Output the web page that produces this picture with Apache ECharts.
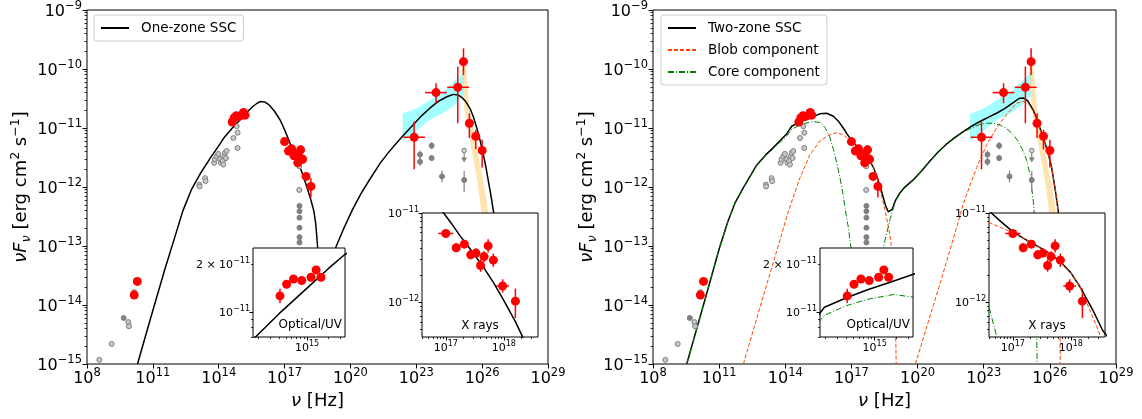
<!DOCTYPE html>
<html><head><meta charset="utf-8">
<script src="https://cdn.jsdelivr.net/npm/echarts@6/dist/echarts.min.js"></script>
<style>html,body{margin:0;padding:0;background:#fff}#c{width:1142px;height:419px}</style>
</head><body><div id="c"></div>
<script>
// ===== DATA (log10 of nu [Hz] and log10 of nuFnu [erg cm^-2 s^-1]) =====
// Red: this work
const radioLogNu = [10.15, 10.29];
const radioLogF  = [-13.83, -13.60];

const optLogNu = [14.613, 14.708, 14.806, 14.924, 15.057, 15.130, 15.199];
const optLogF  = [-10.899, -10.826, -10.793, -10.803, -10.782, -10.736, -10.782];
const optErr   = [0.045, 0.02, 0.02, 0.02, 0.02, 0.02, 0.02];

const xrLogNu = [17.00, 17.18, 17.32, 17.43, 17.52, 17.60, 17.66, 17.73, 17.82, 17.98, 18.20];
const xrLogF  = [-11.23, -11.39, -11.35, -11.47, -11.45, -11.59, -11.49, -11.37, -11.53, -11.82, -11.99];
const xrXErr  = [0.13, 0.07, 0.05, 0.05, 0.04, 0.04, 0.04, 0.04, 0.04, 0.11, 0.07];
const xrYErrLo = [0.03, 0.05, 0.04, 0.05, 0.05, 0.07, 0.06, 0.075, 0.075, 0.075, 0.19];
const xrYErrHi = [0.03, 0.05, 0.04, 0.05, 0.05, 0.07, 0.06, 0.075, 0.075, 0.075, 0.14];

const gamLogNu = [22.90, 23.90, 24.89, 25.15, 25.42, 25.71, 26.00];
const gamLogF  = [-11.157, -10.40, -10.31, -9.876, -10.92, -11.14, -11.38];
const gamXLo   = [22.41, 23.40, 24.41, 25.15, 25.42, 25.71, 26.00];
const gamXHi   = [23.40, 24.39, 25.40, 25.15, 25.42, 25.71, 26.00];
const gamYLo   = [-11.70, -10.58, -10.92, -10.10, -11.17, -11.36, -11.67];
const gamYHi   = [-10.89, -10.24, -9.96, -9.65, -10.75, -11.03, -11.20];

// Grey: archival
const archLogNu = [8.56, 9.12, 9.88, 9.91, 10.15, 10.15, 13.12, 13.13, 13.38, 13.40, 13.79, 13.83, 13.91, 13.98, 14.06, 14.10, 14.18, 14.21, 14.25, 14.29, 14.36, 14.33, 14.67, 14.82, 14.86, 14.86, 17.67, 17.67];
const archLogF  = [-14.93, -14.66, -14.29, -14.36, -13.78, -13.85, -11.96, -11.99, -11.85, -11.90, -11.59, -11.53, -11.48, -11.44, -11.53, -11.59, -11.56, -11.62, -11.48, -11.42, -11.39, -11.51, -11.17, -10.97, -11.08, -11.34, -11.65, -12.05];
const archFilledLogNu = [9.67];
const archFilledLogF  = [-14.22];
const archErrLogNu = [17.68, 17.68, 17.68, 17.68, 17.68, 17.68, 23.17, 23.17, 23.70, 23.70, 24.17, 25.18];
const archErrLogF  = [-12.32, -12.41, -12.52, -12.69, -12.85, -12.94, -11.45, -11.57, -11.30, -11.51, -11.82, -11.88];
const archErrLo    = [0.04, 0.04, 0.04, 0.04, 0.04, 0.04, 0.07, 0.07, 0.06, 0.05, 0.10, 0.20];
const archErrHi    = [0.04, 0.04, 0.04, 0.04, 0.04, 0.04, 0.07, 0.07, 0.06, 0.05, 0.10, 0.15];
const archULLogNu = [25.18];
const archULLogF  = [-11.38];

// Bands (butterflies)
const fermiBandLogNu = [22.38, 23.0, 23.6, 24.2, 24.69, 25.15, 25.15, 24.69, 24.2, 23.6, 23.0, 22.38];
const fermiBandLogF  = [-10.76, -10.67, -10.53, -10.40, -10.23, -10.05, -10.45, -10.63, -10.75, -10.86, -11.05, -11.23];
const vheBandLogNu = [25.05, 25.18, 25.53, 25.78, 25.90, 25.98, 26.15, 26.45, 26.28, 26.21, 26.05, 25.78, 25.42, 25.25];
const vheBandLogF  = [-9.92, -10.66, -11.39, -11.90, -12.24, -12.46, -13.3, -13.3, -12.46, -12.24, -11.90, -11.39, -10.66, -9.92];

// Models
const oneZoneLogNu = [10.3, 10.9, 11.55, 12.0, 12.37, 12.75, 13.15, 13.6, 14.06, 14.23, 14.6, 15.0, 15.3, 15.54, 15.75, 15.9, 16.1, 16.3, 16.55, 16.79, 16.93, 17.1, 17.25, 17.45, 17.64, 17.82, 17.99, 18.2, 18.33, 18.42, 18.49, 18.6, 18.75, 18.9, 19.05, 19.2, 19.3, 19.7, 20.1, 20.5, 20.9, 21.35, 21.7, 22.11, 22.5, 22.87, 23.25, 23.63, 24.0, 24.39, 24.69, 24.9, 25.07, 25.25, 25.45, 25.6, 25.75, 25.9, 26.05, 26.17, 26.28, 26.4, 26.51, 26.65, 26.8];
const oneZoneLogF  = [-15.0, -14.22, -13.39, -12.85, -12.40, -12.05, -11.78, -11.52, -11.27, -11.17, -11.01, -10.85, -10.73, -10.64, -10.58, -10.55, -10.56, -10.61, -10.72, -10.86, -10.97, -11.12, -11.26, -11.43, -11.60, -11.78, -11.97, -12.22, -12.40, -12.62, -12.95, -13.45, -13.9, -14.1, -13.85, -13.35, -13.05, -12.70, -12.38, -12.10, -11.86, -11.60, -11.43, -11.25, -11.09, -10.94, -10.79, -10.66, -10.55, -10.47, -10.43, -10.44, -10.48, -10.55, -10.67, -10.81, -10.99, -11.20, -11.44, -11.66, -11.89, -12.14, -12.40, -12.80, -13.40];

const twoZoneLogNu = [9.53, 10.5, 11.0, 11.4, 11.72, 12.1, 12.7, 13.1, 13.46, 13.8, 14.06, 14.29, 14.6, 14.9, 15.24, 15.57, 15.88, 16.18, 16.4, 16.63, 16.8, 17.0, 17.2, 17.47, 17.65, 17.81, 18.0, 18.16, 18.38, 18.55, 18.67, 18.75, 18.85, 18.98, 19.2, 19.4, 19.8, 20.2, 20.56, 20.9, 21.32, 21.7, 22.07, 22.45, 22.83, 23.2, 23.58, 23.95, 24.34, 24.6, 24.8, 25.0, 25.25, 25.4, 25.55, 25.7, 25.85, 25.97, 26.08, 26.23, 26.38, 26.46, 26.52];
const twoZoneLogF  = [-15.0, -13.72, -13.05, -12.58, -12.27, -12.01, -11.63, -11.46, -11.33, -11.20, -11.10, -10.97, -10.91, -10.86, -10.81, -10.76, -10.75, -10.80, -10.88, -11.00, -11.10, -11.21, -11.29, -11.39, -11.46, -11.54, -11.67, -11.83, -12.09, -12.32, -12.42, -12.45, -12.38, -12.24, -12.10, -12.01, -11.88, -11.72, -11.56, -11.42, -11.27, -11.16, -11.06, -10.97, -10.89, -10.82, -10.75, -10.67, -10.57, -10.50, -10.49, -10.54, -10.70, -10.84, -11.00, -11.16, -11.34, -11.50, -11.67, -12.01, -12.40, -12.85, -13.80];

const blobSynLogNu = [12.1, 13.0, 13.6, 14.15, 14.67, 15.12, 15.57, 16.03, 16.33, 16.6, 16.78, 17.0, 17.2, 17.47, 17.65, 17.81, 18.0, 18.16, 18.38, 18.52, 18.65, 18.78, 18.9, 18.98, 19.03];
const blobSynLogF  = [-15.0, -13.85, -13.10, -12.40, -11.84, -11.45, -11.22, -11.11, -11.08, -11.11, -11.16, -11.22, -11.29, -11.39, -11.46, -11.54, -11.67, -11.83, -12.17, -12.39, -12.62, -12.90, -13.35, -13.90, -15.0];
const blobICLogNu = [19.9, 20.5, 21.0, 21.77, 22.07, 22.4, 22.68, 23.14, 23.58, 24.04, 24.49, 24.79, 25.0, 25.25, 25.4, 25.55, 25.7, 25.85, 25.97, 26.08, 26.23, 26.38, 26.44, 26.47];
const blobICLogF  = [-15.0, -14.27, -13.66, -12.69, -12.29, -11.95, -11.67, -11.28, -11.00, -10.77, -10.58, -10.55, -10.57, -10.72, -10.86, -11.01, -11.17, -11.35, -11.51, -11.68, -12.02, -12.41, -12.90, -15.0];

const coreLogNu = [9.53, 10.5, 11.0, 11.4, 11.72, 12.1, 12.7, 13.1, 13.46, 13.8, 14.06, 14.29, 14.6, 14.9, 15.27, 15.6, 15.8, 16.0, 16.18, 16.33, 16.48, 16.6, 16.72, 16.87, 17.0, 17.2, 17.5, 17.8, 18.1, 18.35, 18.52, 18.75, 18.98, 19.2, 19.4, 19.8, 20.2, 20.56, 20.9, 21.32, 21.7, 22.07, 22.45, 22.83, 23.14, 23.45, 23.74, 24.04, 24.34, 24.55, 24.79, 24.95, 25.1, 25.25, 25.33, 25.38, 25.42];
const coreLogF  = [-15.0, -13.72, -13.05, -12.58, -12.28, -12.02, -11.64, -11.47, -11.35, -11.23, -11.14, -11.02, -10.96, -10.92, -10.89, -10.91, -10.99, -11.13, -11.36, -11.58, -11.84, -12.08, -12.38, -12.71, -13.10, -13.70, -14.30, -14.20, -13.70, -13.20, -12.91, -12.55, -12.26, -12.11, -12.02, -11.89, -11.73, -11.57, -11.43, -11.28, -11.17, -11.07, -11.00, -10.94, -10.92, -10.92, -10.95, -11.01, -11.11, -11.22, -11.39, -11.55, -11.79, -12.24, -12.70, -13.50, -15.0];

// Tick values (log10)
const mainXTicks = [8, 11, 14, 17, 20, 23, 26, 29];
const mainYTicks = [-15, -14, -13, -12, -11, -10, -9];
const optXTicks = [15];
const optYLabelTicks = [-11, Math.log10(2e-11)];
const xrXTicks = [17, 18];
const xrYTicks = [-12, -11];

// ===== helpers =====
const FONT = 'DejaVu Sans';
const MINUS = '\u2212';
const zip = (a, b) => a.map((v, i) => [v, b[i]]);
function expStr(v){ v = Math.round(v); return v < 0 ? MINUS + (-v) : String(v); }
function logMinors(lo, hi){
  const out = [];
  for (let d = Math.floor(lo) - 1; d <= Math.ceil(hi); d++)
    for (let k = 2; k <= 9; k++){ const v = d + Math.log10(k); if (v >= lo - 1e-6 && v <= hi + 1e-6) out.push(v); }
  return out;
}
const richMain = {
  b: {fontSize: 16, fontFamily: FONT, lineHeight: 20, verticalAlign: 'bottom', color: '#000'},
  e: {fontSize: 11.5, fontFamily: FONT, lineHeight: 11, verticalAlign: 'top', color: '#000'}
};
const richIn = {
  b: {fontSize: 11, fontFamily: FONT, lineHeight: 14, verticalAlign: 'bottom', color: '#000'},
  e: {fontSize: 8, fontFamily: FONT, lineHeight: 8, verticalAlign: 'top', color: '#000'}
};
const fmtPow = v => '{b|10}{e|' + expStr(v) + '}';
const fmtPowIn = v => {
  const n = Math.floor(v + 1e-6), m = Math.round(Math.pow(10, v - n));
  return (m === 1 ? '{b|10}' : '{b|' + m + ' \u00d7 10}') + '{e|' + expStr(n) + '}';
};

const grids = [
  {left: 87, top: 8, width: 461, height: 356},
  {left: 653, top: 8, width: 463, height: 356},
  {left: 253, top: 248, width: 92, height: 89, z: 10},
  {left: 422, top: 213, width: 116, height: 124, z: 10},
  {left: 820, top: 248, width: 93, height: 89, z: 10},
  {left: 989, top: 213, width: 116, height: 124, z: 10}
].map(g => Object.assign({show: true, borderColor: '#000', borderWidth: 1, backgroundColor: '#fff', containLabel: false}, g));

const xAxes = [], yAxes = [];
function addAxes(g, xr, yr, xMaj, xLab, xMin, yMaj, yLab, yMin, inset, extraX, extraY){
  const z = inset ? 14 : 0;
  const rich = inset ? richIn : richMain;
  const fmt = inset ? fmtPowIn : fmtPow;
  const majLen = inset ? 3.5 : 4.5, minLen = inset ? 2 : 2.5;
  xAxes.push(Object.assign({type: 'value', gridIndex: g, min: xr[0], max: xr[1], position: 'bottom', z,
    axisLine: {show: false}, splitLine: {show: false},
    axisTick: {show: true, customValues: xMaj, length: majLen, lineStyle: {color: '#000', width: 1}},
    axisLabel: {show: true, customValues: xLab, formatter: fmt, rich, margin: 3, color: '#000'}}, extraX || {}));
  xAxes.push({type: 'value', gridIndex: g, min: xr[0], max: xr[1], position: 'bottom', z,
    axisLine: {show: false}, splitLine: {show: false},
    axisTick: {show: xMin.length > 0, customValues: xMin.length ? xMin : [xr[0]], length: minLen, lineStyle: {color: '#000', width: 0.8}},
    axisLabel: {show: false}});
  yAxes.push(Object.assign({type: 'value', gridIndex: g, min: yr[0], max: yr[1], position: 'left', z,
    axisLine: {show: false}, splitLine: {show: false},
    axisTick: {show: true, customValues: yMaj, length: majLen, lineStyle: {color: '#000', width: 1}},
    axisLabel: {show: true, customValues: yLab, formatter: fmt, rich, margin: inset ? 3 : 5, color: '#000'}}, extraY || {}));
  yAxes.push({type: 'value', gridIndex: g, min: yr[0], max: yr[1], position: 'left', z,
    axisLine: {show: false}, splitLine: {show: false},
    axisTick: {show: yMin.length > 0, customValues: yMin.length ? yMin : [yr[0]], length: minLen, lineStyle: {color: '#000', width: 0.8}},
    axisLabel: {show: false}});
}
const xName = {name: '{i|\u03bd} [Hz]', nameLocation: 'middle', nameGap: 26,
  nameTextStyle: {fontSize: 18, fontFamily: FONT, color: '#000', rich: {i: {fontSize: 18, fontFamily: FONT, fontStyle: 'italic'}}}};
const yName = {name: '{i|\u03bdF}{s|\u03bd} [erg cm{p|2} s{p|' + MINUS + '1}]', nameLocation: 'middle', nameGap: 54, nameRotate: 90,
  nameTextStyle: {fontSize: 18, fontFamily: FONT, color: '#000', lineHeight: 24,
    rich: {i: {fontSize: 18, fontFamily: FONT, fontStyle: 'italic', lineHeight: 24},
           s: {fontSize: 12.5, fontFamily: FONT, fontStyle: 'italic', lineHeight: 12, verticalAlign: 'bottom'},
           p: {fontSize: 12.5, fontFamily: FONT, lineHeight: 12, verticalAlign: 'top'}}}};

const yMainMin = logMinors(-15, -9);
addAxes(0, [8, 29], [-15, -9], mainXTicks, mainXTicks, [], mainYTicks, mainYTicks, yMainMin, false, xName, yName);
addAxes(1, [8, 29], [-15, -9], mainXTicks, mainXTicks, [], mainYTicks, mainYTicks, yMainMin, false, xName, yName);
const optXR = [14.227, 15.543], optYR = [-11.156, -10.599];
const xrXR = [16.59, 18.59], xrYR = [-12.393, -11.0];
addAxes(2, optXR, optYR, optXTicks, optXTicks, logMinors(optXR[0], optXR[1]), [-11], optYLabelTicks, logMinors(optYR[0], optYR[1]), true);
addAxes(3, xrXR, xrYR, xrXTicks, xrXTicks, logMinors(xrXR[0], xrXR[1]), xrYTicks, xrYTicks, logMinors(xrYR[0], xrYR[1]), true);
addAxes(4, optXR, optYR, optXTicks, optXTicks, logMinors(optXR[0], optXR[1]), [-11], optYLabelTicks, logMinors(optYR[0], optYR[1]), true);
addAxes(5, xrXR, xrYR, xrXTicks, xrXTicks, logMinors(xrXR[0], xrXR[1]), xrYTicks, xrYTicks, logMinors(xrYR[0], xrYR[1]), true);

// ===== series builders =====
const RED = '#ff0000', GREY = '#808080';
const ax = g => ({xAxisIndex: 2 * g, yAxisIndex: 2 * g});
function lineS(g, name, xs, ys, color, width, type, z){
  return Object.assign({type: 'line', name, data: zip(xs, ys), symbol: 'none', showSymbol: false, clip: true, silent: true,
    lineStyle: {color, width, type}, itemStyle: {color}, z, animation: false}, ax(g));
}
function scatterS(g, xs, ys, size, fill, border, bw, z){
  return Object.assign({type: 'scatter', data: zip(xs, ys), symbol: 'circle', symbolSize: size, clip: true, silent: true,
    itemStyle: {color: fill, borderColor: border, borderWidth: bw, opacity: 1}, z, animation: false}, ax(g));
}
function errS(g, rows, color, lw, z){
  return Object.assign({type: 'custom', data: rows, encode: {x: 0, y: 1}, clip: true, silent: true, z, animation: false,
    renderItem: (p, api) => {
      const x = api.value(0), y = api.value(1), xl = api.value(2), xh = api.value(3), yl = api.value(4), yh = api.value(5);
      const ch = [];
      if (yh > yl){ const a = api.coord([x, yl]), b = api.coord([x, yh]);
        ch.push({type: 'line', shape: {x1: a[0], y1: a[1], x2: b[0], y2: b[1]}, style: {stroke: color, lineWidth: lw}}); }
      if (xh > xl){ const a = api.coord([xl, y]), b = api.coord([xh, y]);
        ch.push({type: 'line', shape: {x1: a[0], y1: a[1], x2: b[0], y2: b[1]}, style: {stroke: color, lineWidth: lw}}); }
      return {type: 'group', children: ch};
    }}, ax(g));
}
function bandS(g, xs, ys, color, z){
  const pts = zip(xs, ys);
  return Object.assign({type: 'custom', data: pts, encode: {x: 0, y: 1}, clip: true, silent: true, z, animation: false,
    renderItem: (p, api) => {
      if (p.dataIndex !== 0) return {type: 'group', children: []};
      return {type: 'polygon', shape: {points: pts.map(q => api.coord(q))}, style: {fill: color}};
    }}, ax(g));
}
function ulS(g, xs, ys, z){
  return Object.assign({type: 'custom', data: zip(xs, ys), encode: {x: 0, y: 1}, clip: true, silent: true, z, animation: false,
    renderItem: (p, api) => {
      const c = api.coord([api.value(0), api.value(1)]);
      return {type: 'group', children: [
        {type: 'line', shape: {x1: c[0], y1: c[1] + 2, x2: c[0], y2: c[1] + 10}, style: {stroke: GREY, lineWidth: 1.2}},
        {type: 'polygon', shape: {points: [[c[0] - 3, c[1] + 7], [c[0] + 3, c[1] + 7], [c[0], c[1] + 12]]}, style: {fill: GREY}},
        {type: 'circle', shape: {cx: c[0], cy: c[1], r: 2.3}, style: {fill: '#d0d0d0', stroke: GREY, lineWidth: 1}}
      ]};
    }}, ax(g));
}

// error rows
const optRows = optLogNu.map((x, i) => [x, optLogF[i], x, x, optLogF[i] - optErr[i], optLogF[i] + optErr[i]]);
const xrRows = xrLogNu.map((x, i) => [x, xrLogF[i], x - xrXErr[i], x + xrXErr[i], xrLogF[i] - xrYErrLo[i], xrLogF[i] + xrYErrHi[i]]);
const gamRows = gamLogNu.map((x, i) => [x, gamLogF[i], gamXLo[i], gamXHi[i], gamYLo[i], gamYHi[i]]);
const archRows = archErrLogNu.map((x, i) => [x, archErrLogF[i], x, x, archErrLogF[i] - archErrLo[i], archErrLogF[i] + archErrHi[i]]);

const allRedX = radioLogNu.concat(optLogNu, xrLogNu, gamLogNu);
const allRedY = radioLogF.concat(optLogF, xrLogF, gamLogF);

function mainDataSeries(g){
  return [
    bandS(g, fermiBandLogNu, fermiBandLogF, 'rgba(0,255,255,0.36)', 1),
    bandS(g, vheBandLogNu, vheBandLogF, 'rgba(255,165,0,0.3)', 1),
    errS(g, archRows, GREY, 1.2, 4),
    scatterS(g, archLogNu, archLogF, 5, '#c8c8c8', GREY, 1, 4),
    scatterS(g, archErrLogNu, archErrLogF, 5, GREY, GREY, 1, 4),
    scatterS(g, archFilledLogNu, archFilledLogF, 5, GREY, GREY, 1, 4),
    ulS(g, archULLogNu, archULLogF, 4),
    errS(g, optRows.concat(xrRows, gamRows), RED, 1.5, 6),
    scatterS(g, allRedX, allRedY, 9, RED, RED, 0, 7)
  ];
}

const series = [];
// left main
series.push(lineS(0, 'One-zone SSC', oneZoneLogNu, oneZoneLogF, '#000', 1.5, 'solid', 3));
series.push(...mainDataSeries(0));
// right main
series.push(lineS(1, 'Two-zone SSC', twoZoneLogNu, twoZoneLogF, '#000', 1.5, 'solid', 3));
series.push(lineS(1, 'Blob component', blobSynLogNu, blobSynLogF, '#ff4500', 1, [4, 2], 3));
series.push(lineS(1, 'Blob component', blobICLogNu, blobICLogF, '#ff4500', 1, [4, 2], 3));
series.push(lineS(1, 'Core component', coreLogNu, coreLogF, '#008000', 1, [6, 2, 1, 2], 3));
series.push(...mainDataSeries(1));
// insets
series.push(lineS(2, 'in1', oneZoneLogNu, oneZoneLogF, '#000', 1.5, 'solid', 12));
series.push(errS(2, optRows, RED, 1.5, 12), scatterS(2, optLogNu, optLogF, 9, RED, RED, 0, 13));
series.push(lineS(3, 'in2', oneZoneLogNu, oneZoneLogF, '#000', 1.5, 'solid', 12));
series.push(errS(3, xrRows, RED, 1.5, 12), scatterS(3, xrLogNu, xrLogF, 9, RED, RED, 0, 13));
series.push(lineS(4, 'in3', twoZoneLogNu, twoZoneLogF, '#000', 1.5, 'solid', 12));
series.push(lineS(4, 'in4', coreLogNu, coreLogF, '#008000', 1, [6, 2, 1, 2], 12));
series.push(errS(4, optRows, RED, 1.5, 12), scatterS(4, optLogNu, optLogF, 9, RED, RED, 0, 13));
series.push(lineS(5, 'in5', twoZoneLogNu, twoZoneLogF, '#000', 1.5, 'solid', 12));
series.push(lineS(5, 'in6', blobSynLogNu, blobSynLogF, '#ff4500', 1, [4, 2], 12));
series.push(lineS(5, 'in7', coreLogNu, coreLogF, '#008000', 1, [6, 2, 1, 2], 12));
series.push(errS(5, xrRows, RED, 1.5, 12), scatterS(5, xrLogNu, xrLogF, 9, RED, RED, 0, 13));

const legendBase = {orient: 'vertical', itemWidth: 28, itemHeight: 10, itemGap: 8, padding: [6, 7, 6, 6],
  borderColor: '#cccccc', borderWidth: 1, borderRadius: 3, backgroundColor: 'rgba(255,255,255,0.8)',
  itemStyle: {opacity: 0, borderWidth: 0},
  formatter: n => '{t|' + n + '}',
  textStyle: {fontSize: 13.5, fontFamily: FONT, color: '#000', rich: {t: {fontSize: 13.5, fontFamily: FONT, color: '#000', padding: [0, 0, 0, 7]}}},
  selectedMode: false, z: 20};

const txt = (x, y, s, align) => ({type: 'text', x, y, z: 30,
  style: {text: s, font: '12px "DejaVu Sans"', fill: '#000', align, verticalAlign: 'middle'}});

const option = {
  animation: false,
  backgroundColor: '#fff',
  textStyle: {fontFamily: FONT},
  grid: grids,
  xAxis: xAxes,
  yAxis: yAxes,
  legend: [
    Object.assign({left: 94, top: 15, data: ['One-zone SSC']}, legendBase),
    Object.assign({left: 661, top: 15, data: ['Two-zone SSC', 'Blob component', 'Core component']}, legendBase)
  ],
  graphic: [
    txt(342, 325, 'Optical/UV', 'right'),
    txt(480, 326, 'X rays', 'center'),
    txt(910, 325, 'Optical/UV', 'right'),
    txt(1047, 326, 'X rays', 'center')
  ],
  series
};
const chart = echarts.init(document.getElementById('c'), null, {renderer: 'canvas'});
chart.setOption(option);
</script>
</body></html>
